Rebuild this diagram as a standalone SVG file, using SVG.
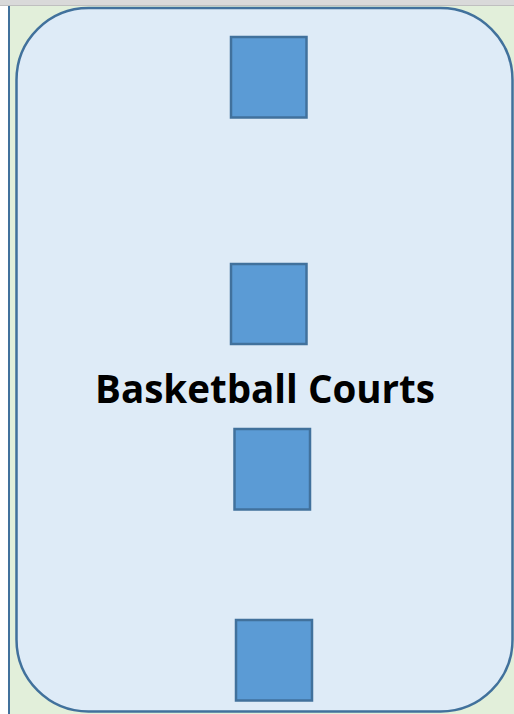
<svg xmlns="http://www.w3.org/2000/svg" width="514" height="714" viewBox="0 0 514 714">
<style>
.court{fill:#5b9bd5;stroke:#41719c;stroke-width:2.5}
.lbl{font-family:"Open Sans","Noto Sans","Liberation Sans",sans-serif;font-weight:bold;font-size:39px;fill:#000}
</style>
<rect x="0" y="0" width="514" height="714" fill="#ffffff"/>
<rect x="9" y="6" width="505" height="708" fill="#e2efda"/>
<rect x="0" y="0" width="514" height="6" fill="#d9d9d9"/>
<line x1="0" y1="5.5" x2="514" y2="5.5" stroke="#bfbfbf" stroke-width="1"/>
<line x1="9" y1="6" x2="9" y2="714" stroke="#41719c" stroke-width="2"/>
<g id="area">
<rect x="16.5" y="8" width="496" height="703.5" rx="72" ry="72" fill="#deebf7" stroke="#41719c" stroke-width="2.5"/>
<text class="lbl" x="265" y="403" text-anchor="middle" textLength="340" lengthAdjust="spacingAndGlyphs">Basketball Courts</text>
</g>
<g id="court1"><rect class="court" x="231" y="37" width="75.5" height="80.5"/></g>
<g id="court2"><rect class="court" x="231" y="264" width="75.5" height="80"/></g>
<g id="court3"><rect class="court" x="234.5" y="429" width="75.5" height="80.5"/></g>
<g id="court4"><rect class="court" x="236" y="620" width="76" height="80.5"/></g>
<g id="connectors"/>
</svg>
